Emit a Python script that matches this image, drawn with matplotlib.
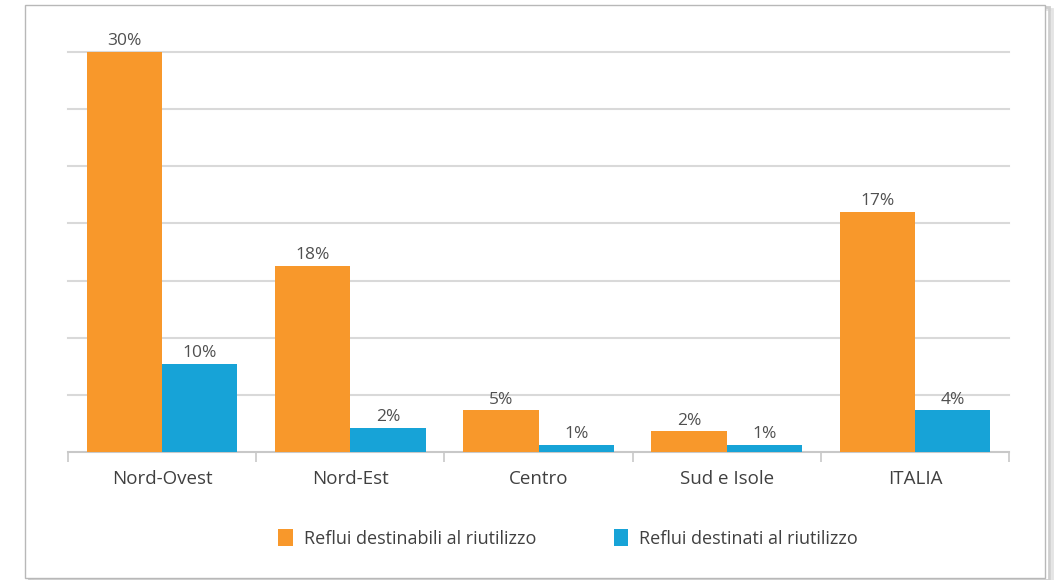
import numpy as np
import matplotlib
matplotlib.use("Agg")
import matplotlib.pyplot as plt
from matplotlib.patches import Rectangle

regioni = ["Nord-Ovest", "Nord-Est", "Centro", "Sud e Isole", "ITALIA"]
# bar heights as drawn in the picture (grid step = 5)
destinabili = [35.0, 16.3, 3.65, 1.8, 21.0]
destinati = [7.7, 2.1, 0.65, 0.65, 3.65]
# value labels as printed above the bars
lab_destinabili = ["30%", "18%", "5%", "2%", "17%"]
lab_destinati = ["10%", "2%", "1%", "1%", "4%"]
serie = ["Reflui destinabili al riutilizzo", "Reflui destinati al riutilizzo"]

ORANGE = "#F8982B"
BLUE = "#17A3D7"
TXT = "#404040"

plt.rcParams["font.family"] = ["Open Sans", "DejaVu Sans"]

fig = plt.figure(figsize=(10.56, 5.8), dpi=100)

# outer frame with a soft shadow
for off, col in [(0.006, "#e4e4e4"), (0.003, "#cfcfcf")]:
    fig.patches.append(Rectangle((0.024 + off, 0.003 - off), 0.966, 0.988,
                                 transform=fig.transFigure, facecolor="none",
                                 edgecolor=col, linewidth=2, zorder=-2))
fig.patches.append(Rectangle((0.024, 0.003), 0.966, 0.988, transform=fig.transFigure,
                             facecolor="white", edgecolor="#b8b8b8", linewidth=1, zorder=-1))

ax = fig.add_axes([0.0644, 0.2207, 0.8911, 0.6896])
ax.set_zorder(1)
ax.patch.set_alpha(0)
x = np.arange(len(regioni))
w = 0.4
b1 = ax.bar(x - w / 2, destinabili, w, color=ORANGE, zorder=3, label=serie[0])
b2 = ax.bar(x + w / 2, destinati, w, color=BLUE, zorder=3, label=serie[1])

for bars, labs in [(b1, lab_destinabili), (b2, lab_destinati)]:
    for r, t in zip(bars, labs):
        ax.annotate(t, (r.get_x() + r.get_width() / 2, r.get_height()),
                    xytext=(0, 2), textcoords="offset points", ha="center",
                    va="bottom", fontsize=12.5, color="#505050", zorder=4)

ax.set_xlim(-0.5, len(regioni) - 0.5)
ax.set_ylim(0, 35)
ax.set_yticks(np.arange(5, 36, 5))
ax.yaxis.grid(True, color="#d9d9d9", linewidth=1.5, zorder=0)
for gl in ax.get_ygridlines():
    gl.set_clip_on(False)
ax.tick_params(axis="y", left=False, labelleft=False)
ax.set_xticks(x)
ax.set_xticklabels(regioni, fontsize=13.5, color=TXT)
ax.tick_params(axis="x", which="major", length=0, pad=13)
ax.set_xticks(np.arange(-0.5, len(regioni), 1), minor=True)
ax.tick_params(axis="x", which="minor", length=7, color="#c8c8c8", width=1.2)
for s in ["top", "right", "left"]:
    ax.spines[s].set_visible(False)
ax.spines["bottom"].set_color("#c8c8c8")
ax.spines["bottom"].set_linewidth(1.5)

leg = fig.legend(handles=[b1, b2], labels=serie, loc="center",
                 bbox_to_anchor=(0.538, 0.072), ncol=2, frameon=False,
                 fontsize=13, handlelength=0.8, handleheight=1.05,
                 handletextpad=0.6, columnspacing=4.3)
for t in leg.get_texts():
    t.set_color(TXT)

fig.savefig("out.png", dpi=100)
